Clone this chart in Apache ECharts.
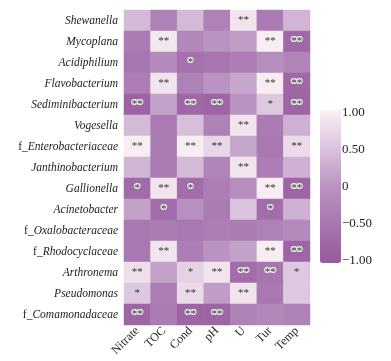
<!DOCTYPE html>
<html>
<head>
<meta charset="utf-8">
<script src="https://cdn.jsdelivr.net/npm/echarts@6/dist/echarts.min.js"></script>
<style>
  html, body { margin: 0; padding: 0; background: #fff; }
  #chart { width: 391px; height: 361px; }
</style>
</head>
<body>
<div id="chart"></div>
<script>
// 列(环境因子)
const factors = ['Nitrate', 'TOC', 'Cond', 'pH', 'U', 'Tur', 'Temp']
// 行(物种), 从上到下
const taxa = [
  'Shewanella', 'Mycoplana', 'Acidiphilium', 'Flavobacterium', 'Sediminibacterium',
  'Vogesella', 'f_Enterobacteriaceae', 'Janthinobacterium', 'Gallionella', 'Acinetobacter',
  'f_Oxalobacteraceae', 'f_Rhodocyclaceae', 'Arthronema', 'Pseudomonas', 'f_Comamonadaceae'
]
// 相关系数, 每行对应 taxa
const corr = [
  [0.40, -0.30, 0.40, -0.30, 0.85, -0.40, 0.35],
  [-0.40, 0.90, -0.20, 0.00, 0.10, 0.95, -0.75],
  [-0.50, -0.15, -0.55, -0.50, -0.35, -0.10, -0.25],
  [-0.35, 0.85, -0.30, 0.00, 0.20, 0.95, -0.75],
  [-0.85, 0.15, -0.75, -0.80, 0.00, 0.55, -0.80],
  [0.40, -0.40, 0.45, -0.30, 0.85, -0.40, 0.30],
  [0.95, -0.40, 0.95, 0.70, 0.20, -0.45, 0.75],
  [0.35, -0.40, 0.40, -0.25, 0.85, -0.35, 0.30],
  [-0.70, 0.85, -0.65, -0.35, -0.10, 0.95, -0.80],
  [0.15, -0.65, -0.05, -0.40, 0.50, -0.65, 0.30],
  [-0.45, -0.40, -0.45, -0.35, -0.40, -0.30, -0.15],
  [-0.45, 0.85, -0.35, 0.00, 0.15, 0.95, -0.80],
  [0.80, 0.15, 0.65, 0.85, -0.65, -0.50, 0.55],
  [0.55, -0.35, 0.75, 0.10, 0.85, -0.45, 0.55],
  [-0.80, -0.40, -0.80, -0.80, -0.30, -0.20, -0.30]
]
// 显著性标记
const sig = [
  ['', '', '', '', '**', '', ''],
  ['', '**', '', '', '', '**', '**'],
  ['', '', '*', '', '', '', ''],
  ['', '**', '', '', '', '**', '**'],
  ['**', '', '**', '**', '', '*', '**'],
  ['', '', '', '', '**', '', ''],
  ['**', '', '**', '**', '', '', '**'],
  ['', '', '', '', '**', '', ''],
  ['*', '**', '*', '', '', '**', '**'],
  ['', '*', '', '', '', '*', ''],
  ['', '', '', '', '', '', ''],
  ['', '**', '', '', '', '**', '**'],
  ['**', '', '*', '**', '**', '**', '*'],
  ['*', '', '**', '', '**', '', ''],
  ['**', '', '**', '**', '', '', '']
]
// 色标刻度
const barTicks = ['1.00', '0.50', '0', '\u22120.50', '\u22121.00']

const font = 'Liberation Serif'
const data = []
corr.forEach((row, i) => {
  row.forEach((v, j) => {
    const neg = v < -0.4
    data.push({
      value: [j, i, v],
      label: {
        show: sig[i][j] !== '',
        formatter: sig[i][j],
        color: '#333',
        fontSize: 11,
        fontFamily: font,
        textBorderColor: neg ? '#e8e8e8' : 'transparent',
        textBorderWidth: neg ? 2 : 0
      }
    })
  })
})

const barLeft = 320
const barTop = 110
const barH = 153
// 刻度文字位置(中心从 113 到 261)
const tickText = barTicks.map((t, k) => ({
  type: 'text',
  x: barLeft + 22,
  y: 113 + (148 * k) / (barTicks.length - 1),
  style: {
    text: t,
    font: '13px "' + font + '"',
    fill: '#222',
    verticalAlign: 'middle'
  }
}))

const chart = echarts.init(document.getElementById('chart'))
chart.setOption({
  animation: false,
  grid: { left: 124, right: 81, top: 10, bottom: 36 },
  xAxis: {
    type: 'category',
    data: factors,
    axisLine: { show: false },
    axisTick: { show: false },
    splitLine: { show: false },
    axisLabel: {
      rotate: 45,
      margin: 4,
      interval: 0,
      fontFamily: font,
      fontSize: 12,
      color: '#222'
    }
  },
  yAxis: {
    type: 'category',
    data: taxa,
    inverse: true,
    axisLine: { show: false },
    axisTick: { show: false },
    splitLine: { show: false },
    axisLabel: {
      margin: 6,
      interval: 0,
      formatter: (v) => v.startsWith('f_') ? '{n|f_}{i|' + v.slice(2) + '}' : '{i|' + v + '}',
      rich: {
        n: { fontFamily: font, fontSize: 11.5, color: '#222' },
        i: { fontFamily: font, fontSize: 11.5, fontStyle: 'italic', color: '#222' }
      }
    }
  },
  visualMap: {
    type: 'continuous',
    min: -1,
    max: 1,
    calculable: false,
    left: barLeft,
    top: barTop,
    padding: 0,
    itemWidth: 21,
    itemHeight: barH,
    inRange: {
      color: ['#985a9e', '#a775b0', '#b993c1', '#dac4dd', '#fbf1f4']
    }
  },
  graphic: tickText,
  series: [
    {
      type: 'heatmap',
      data: data,
      itemStyle: { borderWidth: 0 },
      emphasis: { disabled: true }
    }
  ]
})
</script>
</body>
</html>
